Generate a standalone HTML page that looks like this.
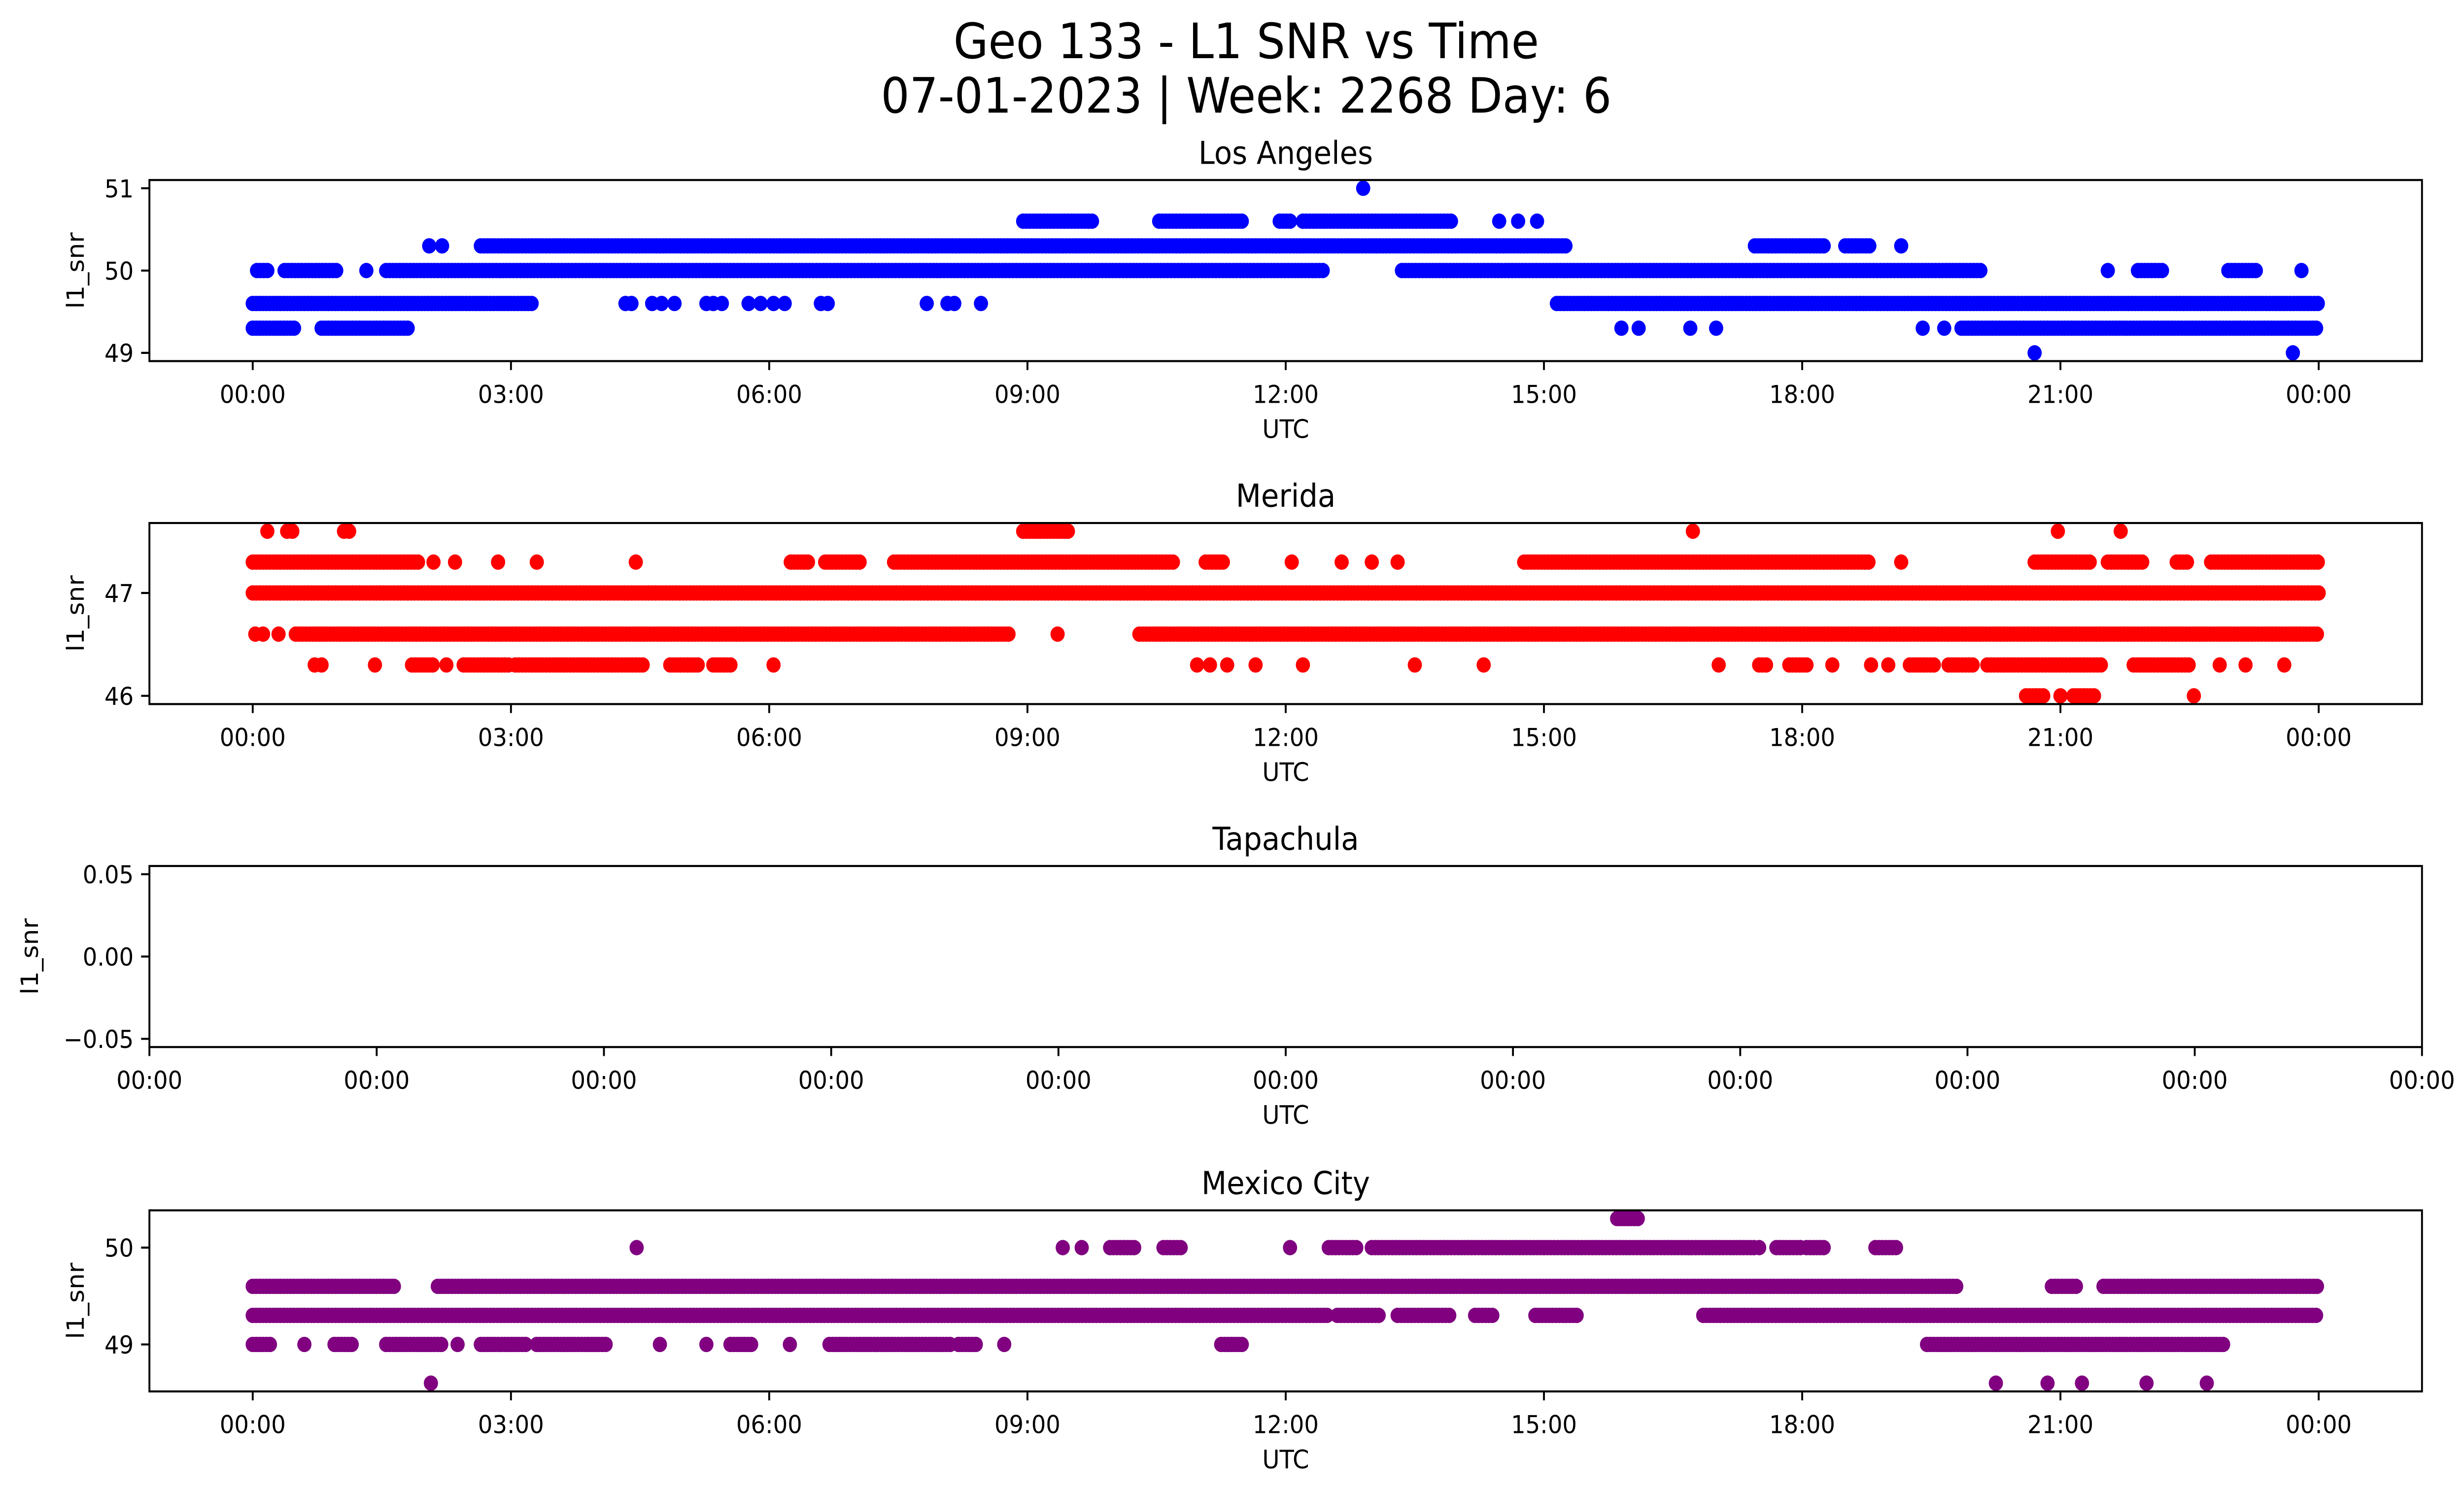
<!DOCTYPE html>
<html>
<head>
<meta charset="utf-8">
<style>
html,body{margin:0;padding:0;background:#fff;overflow:hidden;width:100%;height:100%;}
svg{display:block;width:100vw;height:100vh;}
text{font-family:"DejaVu Sans","Liberation Sans",sans-serif;fill:#000;}
</style>
</head>
<body>
<svg id="fig" xmlns="http://www.w3.org/2000/svg" viewBox="0 0 1560 875.25" preserveAspectRatio="none">
<rect x="0" y="0" width="1560" height="875.25" fill="#fff"/>
<text x="789" y="34" font-size="28.5" text-anchor="middle">Geo 133 - L1 SNR vs Time</text>
<text x="789" y="66" font-size="28.5" text-anchor="middle">07-01-2023 | Week: 2268 Day: 6</text>
</svg>
<script>
// ---- Data (hours UTC, SNR values) ----
const laRuns = [[49.3,0,0.5],[49.3,0.8,1.8],[49.3,19.85,24],[49.6,0,3.25],[49.6,15.15,24],
  [50.0,0.05,0.2],[50.0,0.37,1.0],[50.0,1.55,12.45],[50.0,13.35,20.1],[50.0,21.9,22.2],[50.0,22.95,23.3],
  [50.3,2.65,15.27],[50.3,17.45,18.25],[50.3,18.5,18.8],
  [50.6,8.95,9.75],[50.6,10.53,11.5],[50.6,11.93,12.07],[50.6,12.2,13.95]];
const laSingles = [[49.0,20.7],[49.0,23.7],[49.3,15.9],[49.3,16.1],[49.3,16.7],[49.3,17.0],[49.3,19.4],[49.3,19.65],
  [49.6,4.33],[49.6,4.4],[49.6,4.64],[49.6,4.75],[49.6,4.9],[49.6,5.27],[49.6,5.35],[49.6,5.45],[49.6,5.76],[49.6,5.9],[49.6,6.05],[49.6,6.18],[49.6,6.6],[49.6,6.68],[49.6,7.83],[49.6,8.07],[49.6,8.15],[49.6,8.46],
  [50.0,1.32],[50.0,21.55],[50.0,23.8],[50.3,2.05],[50.3,2.2],[50.3,19.15],
  [50.6,14.48],[50.6,14.7],[50.6,14.92],[51.0,12.9]];
const meRuns = [[47.0,0,24],
  [47.3,0,1.95],[47.3,6.25,6.45],[47.3,6.65,7.05],[47.3,7.45,10.7],[47.3,11.07,11.3],[47.3,14.77,18.8],[47.3,20.7,21.35],[47.3,21.55,21.95],[47.3,22.35,22.5],[47.3,22.75,24],
  [47.6,8.95,9.5],
  [46.6,0.5,8.8],[46.6,10.3,24],
  [46.3,1.85,2.1],[46.3,2.45,3.0],[46.3,3.05,4.55],[46.3,4.85,5.2],[46.3,5.35,5.55],[46.3,17.5,17.6],[46.3,17.85,18.07],[46.3,19.25,19.55],[46.3,19.7,20.0],[46.3,20.15,21.5],[46.3,21.85,22.5],
  [46.0,20.6,20.8],[46.0,21.15,21.4]];
const meSingles = [[47.3,2.1],[47.3,2.35],[47.3,2.85],[47.3,3.3],[47.3,4.45],[47.3,12.07],[47.3,12.65],[47.3,13.0],[47.3,13.3],[47.3,19.15],
  [47.6,0.17],[47.6,0.4],[47.6,0.46],[47.6,1.06],[47.6,1.12],[47.6,16.73],[47.6,20.97],[47.6,21.7],
  [46.6,0.03],[46.6,0.12],[46.6,0.3],[46.6,9.35],
  [46.3,0.72],[46.3,0.8],[46.3,1.42],[46.3,2.25],[46.3,6.05],[46.3,10.97],[46.3,11.12],[46.3,11.32],[46.3,11.65],[46.3,12.2],[46.3,13.5],[46.3,14.3],[46.3,17.03],[46.3,18.35],[46.3,18.8],[46.3,19.0],[46.3,22.85],[46.3,23.15],[46.3,23.6],
  [46.0,21.0],[46.0,22.55]];
const taRuns = [];
const taSingles = [];
const mxRuns = [[49.3,0,12.5],[49.3,12.6,13.1],[49.3,13.3,13.9],[49.3,14.2,14.4],[49.3,14.9,15.4],[49.3,16.85,24],
  [49.6,0,1.65],[49.6,2.15,19.8],[49.6,20.9,21.2],[49.6,21.5,24],
  [49.0,0,0.22],[49.0,0.95,1.15],[49.0,1.55,2.2],[49.0,2.65,3.2],[49.0,3.3,4.1],[49.0,5.55,5.8],[49.0,6.7,8.1],[49.0,8.2,8.4],[49.0,11.25,11.5],[49.0,19.45,22.9],
  [50.0,9.96,10.27],[50.0,10.58,10.8],[50.0,12.5,12.85],[50.0,13.0,17.45],[50.0,17.7,18.0],[50.0,18.05,18.25],[50.0,18.85,19.1],
  [50.3,15.85,16.1]];
const mxSingles = [[49.0,0.6],[49.0,2.38],[49.0,4.73],[49.0,5.27],[49.0,6.24],[49.0,8.73],
  [50.0,4.46],[50.0,9.41],[50.0,9.63],[50.0,12.05],[50.0,17.5],
  [48.6,2.07],[48.6,20.25],[48.6,20.85],[48.6,21.25],[48.6,22.0],[48.6,22.7]];

const xTickHours = [0,3,6,9,12,15,18,21,24];
const xTickLabels = ["00:00","03:00","06:00","09:00","12:00","15:00","18:00","21:00","00:00"];
const laYTicks = [49,50,51];
const meYTicks = [46,47];
const taYTicks = [-0.05,0,0.05];
const taYTickLabels = ["\u22120.05","0.00","0.05"];
const mxYTicks = [49,50];
const taXTickLabels = ["00:00","00:00","00:00","00:00","00:00","00:00","00:00","00:00","00:00","00:00","00:00"];

const NS = "http://www.w3.org/2000/svg";
const svg = document.getElementById('fig');
const AX_L = 94.6, AX_R = 1533.4, AX_H = 106;
const X0 = -1.2, X1 = 25.2;
const STEP = 0.04, R = 4.5;

function mk(tag, attrs, parent){
  const e = document.createElementNS(NS, tag);
  for (const k in attrs) e.setAttribute(k, attrs[k]);
  (parent||svg).appendChild(e);
  return e;
}
function xs(h){ return AX_L + (h - X0) / (X1 - X0) * (AX_R - AX_L); }

function panel(cfg){
  const top = cfg.top, bot = top + AX_H;
  const ys = v => bot - (v - cfg.ymin) / (cfg.ymax - cfg.ymin) * AX_H;
  const g = mk('g', {});
  
  
  const t = mk('text', {x:(AX_L+AX_R)/2, y:top-9.5, 'font-size':18.5, 'text-anchor':'middle'}, g);
  t.textContent = cfg.title;
  
  
  const cid = 'clip-' + cfg.name;
  const cp = mk('clipPath', {id:cid}, g);
  mk('rect', {x:AX_L, y:top, width:AX_R-AX_L, height:AX_H}, cp);
  const pts = mk('g', {'clip-path':'url(#'+cid+')', fill:cfg.color}, g);
  
  
  for (const r of cfg.runs){
    for (let h = r[1]; h <= r[2] + 1e-9; h += STEP){
      const c = mk('circle', {cx:xs(h).toFixed(2), cy:ys(r[0]).toFixed(2), r:R}, pts);
      
      
    }
  }
  for (const s of cfg.singles){
    const c = mk('circle', {cx:xs(s[1]).toFixed(2), cy:ys(s[0]).toFixed(2), r:R}, pts);
    
    
  }
  const fr = mk('rect', {x:AX_L, y:top, width:AX_R-AX_L, height:AX_H, fill:'none', stroke:'#000', 'stroke-width':1.2}, g);
  
  
  cfg.yticks.forEach((v,i) => {
    const y = ys(v);
    mk('line', {x1:AX_L-5.25, x2:AX_L, y1:y, y2:y, stroke:'#000', 'stroke-width':1.2}, g);
    const tl = mk('text', {x:AX_L-10, y:y+5.3, 'font-size':14.5, 'text-anchor':'end'}, g);
    tl.textContent = cfg.ylabels ? cfg.ylabels[i] : String(v);
    
    
  });
  if (cfg.xEmpty){
    cfg.xEmpty.forEach((lab,i) => {
      const x = AX_L + i * (AX_R - AX_L) / 10;
      mk('line', {x1:x, x2:x, y1:bot, y2:bot+5.25, stroke:'#000', 'stroke-width':1.2}, g);
      const tl = mk('text', {x:x, y:bot+24.5, 'font-size':14.5, 'text-anchor':'middle'}, g);
      tl.textContent = lab;
      
      
    });
  } else {
    xTickHours.forEach((h,i) => {
      const x = xs(h);
      mk('line', {x1:x, x2:x, y1:bot, y2:bot+5.25, stroke:'#000', 'stroke-width':1.2}, g);
      const tl = mk('text', {x:x, y:bot+24.5, 'font-size':14.5, 'text-anchor':'middle'}, g);
      tl.textContent = xTickLabels[i];
      
      
    });
  }
  const xl = mk('text', {x:(AX_L+AX_R)/2, y:bot+45, 'font-size':15, 'text-anchor':'middle'}, g);
  xl.textContent = 'UTC';
  
  
  const yx = cfg.ylabelX, yc = top + AX_H/2;
  const yl = mk('text', {x:yx, y:yc, 'font-size':15, 'text-anchor':'middle', transform:'rotate(-90 '+yx+' '+yc+')'}, g);
  yl.textContent = 'l1_snr';
  
  
}

panel({name:'los-angeles', title:'Los Angeles', top:105.4, ymin:48.9, ymax:51.1, yticks:laYTicks, color:'#0000ff', runs:laRuns, singles:laSingles, ylabelX:53});
panel({name:'merida', title:'Merida', top:306.2, ymin:45.92, ymax:47.68, yticks:meYTicks, color:'#ff0000', runs:meRuns, singles:meSingles, ylabelX:53});
panel({name:'tapachula', title:'Tapachula', top:507, ymin:-0.055, ymax:0.055, yticks:taYTicks, ylabels:taYTickLabels, color:'#00a000', runs:taRuns, singles:taSingles, ylabelX:24, xEmpty:taXTickLabels});
panel({name:'mexico-city', title:'Mexico City', top:708.6, ymin:48.515, ymax:50.385, yticks:mxYTicks, color:'#800080', runs:mxRuns, singles:mxSingles, ylabelX:53});
</script>
</body>
</html>
